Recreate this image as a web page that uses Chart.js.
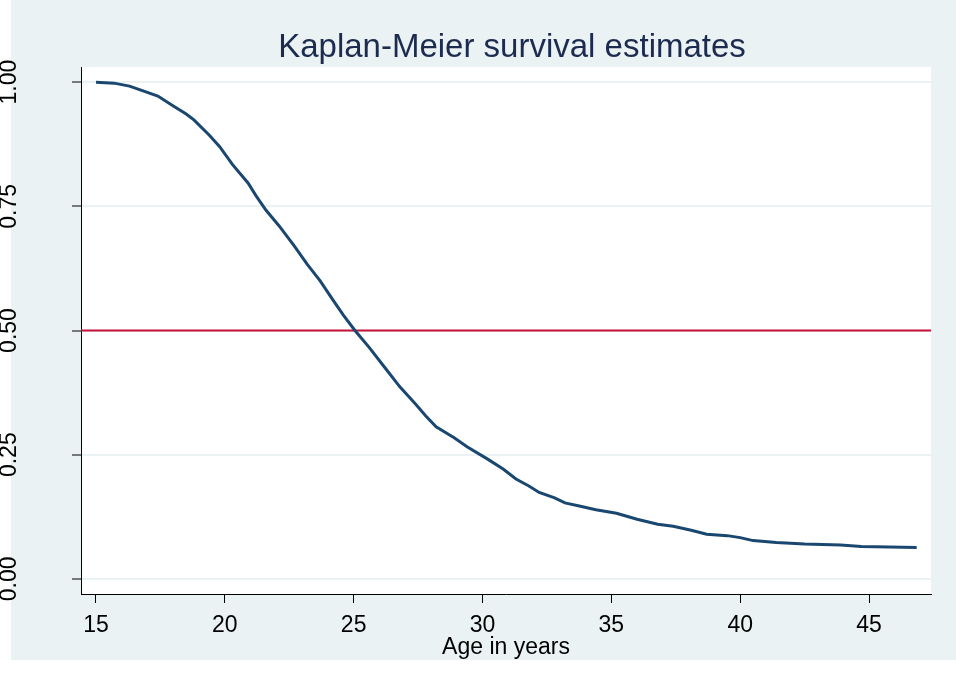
<!DOCTYPE html>
<html>
<head>
<meta charset="utf-8">
<script src="https://cdn.jsdelivr.net/npm/chart.js@4/dist/chart.umd.min.js"></script>
<style>
  html, body { margin: 0; padding: 0; background: #ffffff; }
  #wrap { width: 956px; height: 688px; }
</style>
</head>
<body>
<div id="wrap"><canvas id="km" width="956" height="688"></canvas></div>
<script>
const ages = [15.0, 15.7, 16.3, 16.8, 17.4, 18.0, 18.5, 18.8, 19.4, 19.8, 20.3, 20.9, 21.2, 21.6, 22.1, 22.7,
  23.2, 23.7, 24.2, 24.6, 25.05, 25.6, 26.2, 26.8, 27.4, 27.8, 28.2, 28.9, 29.4, 30.2, 30.8, 31.3, 31.8,
  32.2, 32.8, 33.2, 33.8, 34.4, 35.2, 36.0, 36.8, 37.4, 38.1, 38.7, 39.5, 40.0, 40.5, 41.4, 42.5, 43.9, 44.7, 46.85];
const survival = [1.000, 0.998, 0.992, 0.983, 0.972, 0.952, 0.936, 0.924, 0.893, 0.870, 0.834, 0.797, 0.772, 0.742, 0.711, 0.670,
  0.633, 0.600, 0.561, 0.531, 0.500, 0.466, 0.426, 0.386, 0.352, 0.328, 0.306, 0.284, 0.266, 0.241, 0.221, 0.201, 0.187,
  0.174, 0.163, 0.153, 0.146, 0.139, 0.132, 0.120, 0.110, 0.106, 0.098, 0.090, 0.087, 0.083, 0.077, 0.073, 0.070, 0.068, 0.065, 0.063];
const medianLine = 0.5;

const xTicks = [15, 20, 25, 30, 35, 40, 45];
const yTicks = [0, 0.25, 0.5, 0.75, 1];
const yTickLabels = ['0.00', '0.25', '0.50', '0.75', '1.00'];

const xMin = 14.418, xMax = 47.406;
const yMin = -0.0305, yMax = 1.0305;

const FONT = "'Liberation Sans', Arial, sans-serif";

const stataPlugin = {
  id: 'stata',
  beforeDraw(chart) {
    const { ctx, chartArea } = chart;
    ctx.save();
    ctx.fillStyle = '#ffffff';
    ctx.fillRect(0, 0, chart.width, chart.height);
    ctx.fillStyle = '#eaf2f3';
    ctx.fillRect(11, 0, chart.width - 11, 660);
    ctx.fillStyle = '#ffffff';
    ctx.fillRect(chartArea.left, chartArea.top, chartArea.right - chartArea.left, chartArea.bottom - chartArea.top);
    ctx.restore();
  },
  afterDraw(chart) {
    const { ctx, chartArea } = chart;
    const y = chart.scales.y;
    ctx.save();
    // title
    ctx.fillStyle = '#1c2b4f';
    ctx.font = '33px ' + FONT;
    ctx.textAlign = 'center';
    ctx.textBaseline = 'alphabetic';
    ctx.fillText('Kaplan-Meier survival estimates', 512, 57);
    // x title
    ctx.fillStyle = '#000000';
    ctx.font = '23px ' + FONT;
    ctx.fillText('Age in years', (chartArea.left + chartArea.right) / 2, 654);
    // y tick labels, rotated (partly cut off at the left edge, as in the original)
    yTicks.forEach((v, i) => {
      const py = y.getPixelForValue(v);
      ctx.save();
      ctx.translate(15.5, py);
      ctx.rotate(-Math.PI / 2);
      ctx.textAlign = 'center';
      ctx.fillText(yTickLabels[i], 0, 0);
      ctx.restore();
    });
    ctx.restore();
  }
};

new Chart(document.getElementById('km'), {
  type: 'line',
  data: {
    datasets: [{
      data: [{ x: xMin, y: medianLine }, { x: xMax, y: medianLine }],
      borderColor: '#c4103a',
      borderWidth: 2,
      pointRadius: 0,
      tension: 0,
      order: 2
    }, {
      data: ages.map((a, i) => ({ x: a, y: survival[i] })),
      borderColor: '#1a476f',
      borderWidth: 3,
      pointRadius: 0,
      tension: 0,
      order: 1
    }]
  },
  options: {
    responsive: false,
    animation: false,
    events: [],
    layout: { padding: { left: 0, right: 25, top: 67, bottom: 0 } },
    plugins: {
      legend: { display: false },
      tooltip: { enabled: false }
    },
    scales: {
      x: {
        type: 'linear',
        min: xMin,
        max: xMax,
        afterBuildTicks: (s) => { s.ticks = xTicks.map(v => ({ value: v })); },
        afterFit: (s) => { s.height = 94; },
        grid: { display: true, drawOnChartArea: false, drawTicks: true, tickLength: 9, tickColor: '#000000', tickWidth: 1 },
        border: { display: true, color: '#000000', width: 1 },
        ticks: { color: '#000000', font: { family: FONT, size: 23 }, padding: 9, maxRotation: 0, minRotation: 0 }
      },
      y: {
        type: 'linear',
        min: yMin,
        max: yMax,
        afterBuildTicks: (s) => { s.ticks = yTicks.map(v => ({ value: v })); },
        afterFit: (s) => { s.width = 81; },
        grid: { display: true, color: '#eaf2f3', lineWidth: 2, drawTicks: true, tickLength: 9, tickColor: '#000000', tickWidth: 1 },
        border: { display: true, color: '#000000', width: 1 },
        ticks: { display: false }
      }
    }
  },
  plugins: [stataPlugin]
});
</script>
</body>
</html>
